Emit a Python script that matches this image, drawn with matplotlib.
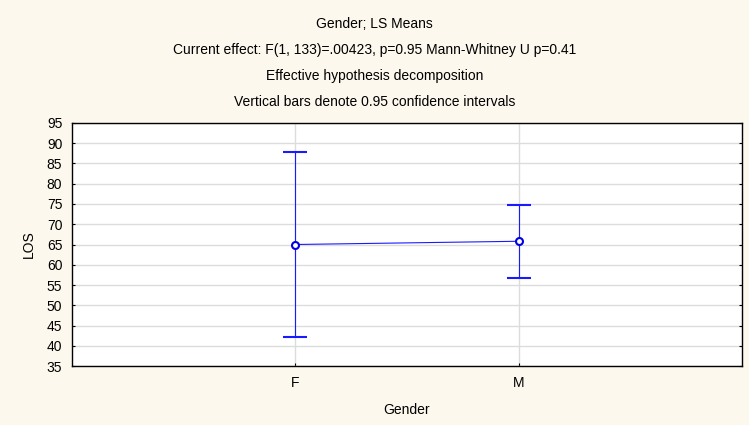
import numpy as np
import matplotlib.pyplot as plt

plt.rcParams['font.family'] = ['Liberation Sans', 'DejaVu Sans']

groups = ['F', 'M']
means = [65.0, 65.8]
ci_low = [42.2, 56.7]
ci_high = [87.8, 74.8]

title_lines = [
    'Gender; LS Means',
    'Current effect: F(1, 133)=.00423, p=0.95 Mann-Whitney U p=0.41',
    'Effective hypothesis decomposition',
    'Vertical bars denote 0.95 confidence intervals',
]

x = np.arange(1, len(groups) + 1)
means = np.array(means)
err = [means - np.array(ci_low), np.array(ci_high) - means]

fig = plt.figure(figsize=(7.49, 4.25), dpi=100, facecolor='#fdf8ee')
ax = fig.add_axes([0.0961, 0.1388, 0.8946, 0.5718])
ax.set_facecolor('white')

ax.errorbar(x, means, yerr=err, color='#1a1aff', lw=0.8, capsize=8.3,
            capthick=0.9, marker='o', markersize=5, markerfacecolor='white',
            markeredgecolor='#0000e6', markeredgewidth=1.5, zorder=3)

ax.set_xlim(0, 3)
ax.set_ylim(35, 95)
ax.set_xticks(x)
ax.set_xticklabels(groups)
ax.set_yticks(np.arange(35, 96, 5))
ax.grid(True, color='#dcdcdc', lw=1.0, zorder=0)
ax.set_axisbelow(True)
ax.tick_params(direction='in', length=2, labelsize=10, right=True, top=False)
ax.tick_params(axis='x', pad=7.5)
ax.tick_params(axis='y', pad=7)
for s in ax.spines.values():
    s.set_linewidth(1.0)
    s.set_color('black')

ax.set_xlabel('Gender', fontsize=10, labelpad=9)
ax.set_ylabel('LOS', fontsize=10, labelpad=8)

for i, line in enumerate(title_lines):
    fig.text(0.5, 1 - (24 + 26 * i) / 425, line, ha='center', va='center',
             fontsize=10)

fig.savefig('out.png', dpi=100, facecolor=fig.get_facecolor())
